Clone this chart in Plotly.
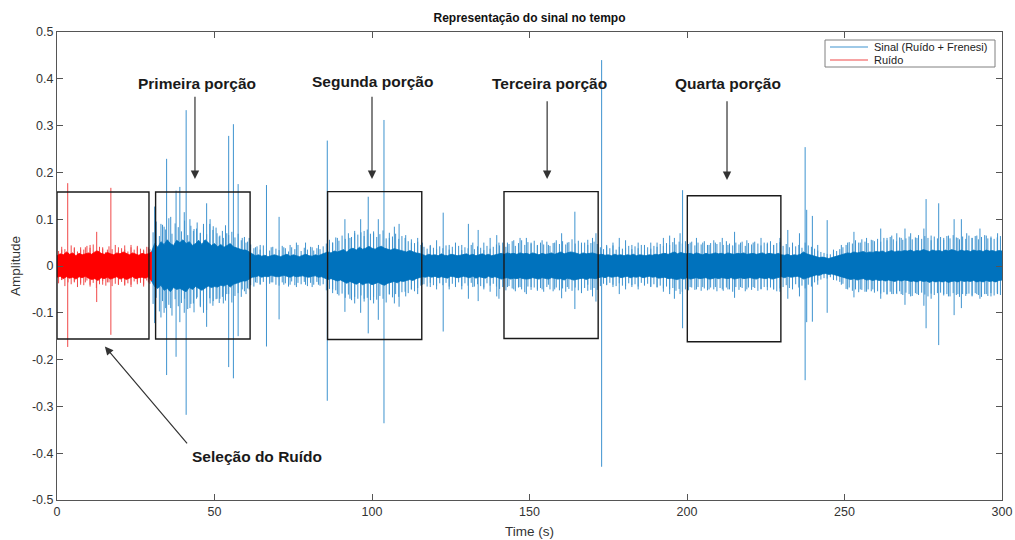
import plotly.graph_objects as go

# ---- data -------------------------------------------------------------
# Dense core of the recording, one envelope value per second (t = 0 ... 300 s).
# Upper edge (positive amplitude) and depth of the lower edge (magnitude).
env_hi = [
    0.022, 0.026, 0.024, 0.030, 0.025, 0.028, 0.022, 0.027, 0.024, 0.026,   # 0-9
    0.028, 0.025, 0.030, 0.032, 0.027, 0.025, 0.029, 0.026, 0.024, 0.028,   # 10-19
    0.026, 0.030, 0.027, 0.024, 0.028, 0.025, 0.023, 0.027, 0.025, 0.026,   # 20-29
    0.030, 0.048, 0.040, 0.052, 0.046, 0.056, 0.048, 0.044, 0.055, 0.050,   # 30-39
    0.056, 0.048, 0.052, 0.044, 0.048, 0.055, 0.046, 0.056, 0.050, 0.044,   # 40-49
    0.048, 0.041, 0.046, 0.040, 0.044, 0.048, 0.041, 0.039, 0.037, 0.034,   # 50-59
    0.034, 0.030, 0.025, 0.022, 0.024, 0.021, 0.023, 0.020, 0.022, 0.024,   # 60-69
    0.022, 0.020, 0.023, 0.025, 0.021, 0.024, 0.022, 0.020, 0.023, 0.025,   # 70-79
    0.022, 0.021, 0.024, 0.022, 0.025, 0.027, 0.030, 0.028, 0.032, 0.030,   # 80-89
    0.033, 0.035, 0.030, 0.036, 0.038, 0.034, 0.040, 0.036, 0.038, 0.042,   # 90-99
    0.038, 0.036, 0.040, 0.042, 0.038, 0.036, 0.034, 0.037, 0.035, 0.033,   # 100-109
    0.032, 0.030, 0.033, 0.030, 0.028, 0.027, 0.024, 0.022, 0.025, 0.023,   # 110-119
    0.024, 0.022, 0.026, 0.023, 0.022, 0.025, 0.024, 0.022, 0.023, 0.025,   # 120-129
    0.026, 0.023, 0.025, 0.022, 0.024, 0.026, 0.023, 0.025, 0.022, 0.024,   # 130-139
    0.026, 0.027, 0.025, 0.028, 0.026, 0.027, 0.025, 0.028, 0.026, 0.027,   # 140-149
    0.025, 0.028, 0.026, 0.024, 0.027, 0.025, 0.026, 0.028, 0.025, 0.027,   # 150-159
    0.030, 0.026, 0.028, 0.030, 0.029, 0.027, 0.025, 0.028, 0.026, 0.027,   # 160-169
    0.028, 0.026, 0.024, 0.025, 0.023, 0.024, 0.022, 0.025, 0.023, 0.024,   # 170-179
    0.022, 0.024, 0.023, 0.025, 0.022, 0.024, 0.023, 0.022, 0.024, 0.023,   # 180-189
    0.025, 0.024, 0.026, 0.027, 0.025, 0.028, 0.030, 0.026, 0.029, 0.027,   # 190-199
    0.026, 0.027, 0.025, 0.028, 0.026, 0.024, 0.027, 0.025, 0.026, 0.028,   # 200-209
    0.026, 0.027, 0.025, 0.028, 0.026, 0.025, 0.027, 0.026, 0.028, 0.025,   # 210-219
    0.026, 0.027, 0.025, 0.026, 0.028, 0.025, 0.027, 0.026, 0.025, 0.027,   # 220-229
    0.024, 0.023, 0.025, 0.022, 0.024, 0.023, 0.025, 0.030, 0.026, 0.024,   # 230-239
    0.022, 0.020, 0.018, 0.019, 0.017, 0.016, 0.018, 0.020, 0.022, 0.024,   # 240-249
    0.026, 0.028, 0.027, 0.030, 0.028, 0.029, 0.031, 0.028, 0.030, 0.029,   # 250-259
    0.031, 0.030, 0.032, 0.029, 0.031, 0.033, 0.030, 0.032, 0.031, 0.033,   # 260-269
    0.032, 0.034, 0.031, 0.033, 0.032, 0.035, 0.033, 0.031, 0.034, 0.032,   # 270-279
    0.033, 0.031, 0.034, 0.032, 0.035, 0.033, 0.031, 0.034, 0.032, 0.033,   # 280-289
    0.031, 0.034, 0.032, 0.033, 0.031, 0.034, 0.032, 0.033, 0.031, 0.033,   # 290-299
    0.032,                                                                   # 300
]
env_depth = [
    0.024, 0.022, 0.027, 0.023, 0.026, 0.024, 0.028, 0.023, 0.025, 0.022,
    0.026, 0.029, 0.027, 0.031, 0.025, 0.027, 0.024, 0.028, 0.026, 0.023,
    0.028, 0.025, 0.029, 0.026, 0.023, 0.027, 0.025, 0.024, 0.026, 0.023,
    0.032, 0.044, 0.048, 0.041, 0.052, 0.048, 0.055, 0.046, 0.050, 0.048,
    0.052, 0.055, 0.046, 0.050, 0.044, 0.048, 0.052, 0.048, 0.043, 0.046,
    0.044, 0.045, 0.041, 0.043, 0.039, 0.045, 0.039, 0.037, 0.035, 0.032,
    0.032, 0.028, 0.024, 0.023, 0.021, 0.024, 0.022, 0.023, 0.020, 0.022,
    0.023, 0.022, 0.020, 0.022, 0.024, 0.021, 0.023, 0.022, 0.021, 0.023,
    0.024, 0.022, 0.021, 0.024, 0.023, 0.026, 0.029, 0.027, 0.030, 0.032,
    0.030, 0.034, 0.037, 0.033, 0.036, 0.039, 0.035, 0.040, 0.037, 0.036,
    0.040, 0.037, 0.035, 0.039, 0.041, 0.037, 0.035, 0.033, 0.036, 0.032,
    0.033, 0.031, 0.029, 0.031, 0.027, 0.025, 0.023, 0.024, 0.022, 0.024,
    0.022, 0.025, 0.023, 0.024, 0.026, 0.022, 0.023, 0.025, 0.024, 0.022,
    0.024, 0.025, 0.022, 0.026, 0.023, 0.024, 0.026, 0.022, 0.025, 0.023,
    0.025, 0.028, 0.026, 0.025, 0.028, 0.026, 0.027, 0.025, 0.027, 0.028,
    0.027, 0.025, 0.027, 0.028, 0.025, 0.027, 0.028, 0.025, 0.026, 0.028,
    0.027, 0.030, 0.026, 0.028, 0.030, 0.028, 0.027, 0.026, 0.029, 0.026,
    0.026, 0.027, 0.025, 0.023, 0.025, 0.022, 0.024, 0.023, 0.022, 0.025,
    0.024, 0.022, 0.025, 0.023, 0.024, 0.022, 0.025, 0.024, 0.022, 0.024,
    0.023, 0.026, 0.025, 0.024, 0.027, 0.026, 0.028, 0.029, 0.026, 0.028,
    0.025, 0.028, 0.026, 0.025, 0.027, 0.026, 0.025, 0.028, 0.027, 0.025,
    0.027, 0.025, 0.026, 0.027, 0.025, 0.028, 0.026, 0.025, 0.027, 0.026,
    0.025, 0.026, 0.028, 0.025, 0.026, 0.027, 0.025, 0.028, 0.026, 0.025,
    0.023, 0.025, 0.022, 0.024, 0.023, 0.022, 0.024, 0.028, 0.025, 0.023,
    0.021, 0.019, 0.020, 0.017, 0.016, 0.018, 0.017, 0.019, 0.021, 0.023,
    0.025, 0.027, 0.029, 0.027, 0.030, 0.028, 0.027, 0.030, 0.029, 0.031,
    0.029, 0.031, 0.030, 0.032, 0.030, 0.031, 0.033, 0.030, 0.032, 0.030,
    0.031, 0.033, 0.032, 0.034, 0.031, 0.033, 0.032, 0.035, 0.032, 0.034,
    0.032, 0.034, 0.032, 0.035, 0.033, 0.032, 0.034, 0.031, 0.033, 0.032,
    0.033, 0.031, 0.034, 0.032, 0.034, 0.031, 0.033, 0.032, 0.034, 0.031,
    0.030,
]

# Fine oscillation peaks around the core, one pair per second (centred at t + 0.5 s)
fuzz_hi = [
    .032, .041, .036, .029, .044, .038, .031, .040, .035, .043,
    .039, .046, .034, .041, .037, .030, .042, .036, .045, .033,
    .038, .044, .031, .040, .035, .043, .037, .032, .041, .036,
    .072, .095, .064, .088, .078, .102, .069, .091, .083, .074,
    .097, .066, .086, .079, .093, .071, .084, .068, .090, .077,
    .082, .063, .075, .087, .066, .073, .061, .069, .055, .062,
    .052, .046, .038, .042, .035, .044, .036, .033, .041, .037,
    .034, .043, .038, .031, .040, .036, .045, .032, .039, .035,
    .041, .033, .038, .036, .042, .048, .056, .050, .061, .054,
    .065, .058, .070, .062, .075, .067, .072, .064, .078, .069,
    .074, .062, .068, .076, .059, .071, .063, .069, .058, .064,
    .060, .053, .057, .049, .052, .045, .041, .037, .043, .039,
    .036, .042, .038, .044, .035, .041, .037, .043, .034, .040,
    .038, .045, .036, .042, .039, .034, .043, .037, .041, .046,
    .044, .050, .041, .047, .053, .043, .049, .055, .045, .051,
    .048, .054, .044, .050, .046, .052, .043, .049, .055, .047,
    .053, .046, .051, .057, .048, .054, .045, .050, .056, .049,
    .052, .047, .040, .036, .042, .038, .044, .035, .041, .037,
    .039, .043, .036, .042, .038, .045, .034, .040, .037, .043,
    .041, .047, .043, .049, .045, .051, .046, .052, .048, .053,
    .047, .052, .044, .050, .046, .053, .045, .049, .055, .047,
    .051, .045, .053, .048, .044, .050, .046, .052, .043, .049,
    .046, .052, .048, .044, .050, .047, .053, .045, .049, .051,
    .043, .047, .040, .046, .042, .045, .039, .050, .044, .041,
    .037, .033, .030, .028, .026, .025, .029, .032, .036, .040,
    .045, .051, .048, .055, .050, .057, .052, .049, .056, .053,
    .058, .052, .060, .055, .062, .057, .053, .061, .056, .059,
    .063, .057, .061, .066, .058, .064, .060, .055, .063, .059,
    .062, .056, .064, .059, .066, .061, .057, .063, .058, .065,
    .060, .064, .057, .062, .066, .059, .063, .058, .061, .064,
]
fuzz_depth = [
    .037, .030, .043, .035, .039, .033, .045, .036, .041, .031,
    .044, .036, .047, .039, .032, .042, .035, .043, .038, .040,
    .034, .042, .037, .045, .033, .039, .036, .044, .031, .038,
    .081, .068, .097, .075, .090, .083, .106, .071, .086, .079,
    .070, .092, .081, .099, .067, .088, .076, .094, .069, .085,
    .071, .079, .066, .074, .060, .078, .064, .058, .066, .054,
    .048, .041, .044, .036, .039, .034, .042, .038, .035, .040,
    .042, .035, .037, .044, .033, .041, .036, .039, .034, .043,
    .036, .040, .034, .042, .039, .052, .049, .058, .052, .063,
    .059, .068, .061, .073, .066, .070, .063, .076, .068, .073,
    .066, .072, .064, .070, .078, .061, .067, .060, .066, .056,
    .055, .058, .050, .054, .047, .042, .039, .044, .036, .041,
    .043, .037, .041, .036, .044, .038, .042, .035, .043, .037,
    .042, .036, .044, .039, .043, .046, .037, .042, .038, .044,
    .049, .045, .052, .043, .048, .054, .046, .050, .056, .044,
    .051, .046, .053, .047, .055, .045, .050, .054, .046, .052,
    .048, .055, .049, .053, .046, .052, .058, .047, .053, .051,
    .047, .051, .043, .038, .041, .036, .040, .043, .037, .042,
    .043, .037, .041, .039, .044, .036, .042, .038, .044, .039,
    .046, .042, .048, .044, .050, .047, .053, .049, .055, .050,
    .052, .046, .051, .045, .053, .048, .052, .046, .050, .054,
    .047, .053, .046, .050, .055, .045, .051, .047, .054, .046,
    .051, .047, .053, .049, .045, .052, .046, .050, .054, .048,
    .045, .041, .047, .043, .039, .046, .042, .048, .040, .044,
    .035, .031, .029, .026, .027, .024, .028, .031, .034, .038,
    .049, .046, .053, .050, .056, .051, .055, .050, .054, .057,
    .054, .059, .056, .061, .055, .060, .058, .054, .062, .057,
    .060, .064, .058, .062, .057, .061, .065, .059, .062, .058,
    .057, .063, .060, .065, .058, .062, .066, .060, .064, .059,
    .063, .058, .062, .066, .060, .064, .058, .063, .059, .062,
]
noise_end = 30  # seconds of noise-only recording at the start

# Isolated bursts of the signal: time (s), positive peak, negative peak
spk_t = [31.0, 33.0, 34.0, 34.8, 36.1, 37.8, 39.0, 40.4, 41.0, 42.2, 43.3, 44.3, 45.5,
         46.5, 47.5, 48.6, 49.6, 50.8, 51.7, 52.8, 53.9, 54.5, 56.0, 57.5, 58.8, 60.0,
         61.0, 63.0, 64.5, 66.5, 68.0, 70.5, 72.0, 74.0, 76.0, 78.9, 81.0, 83.0, 85.8,
         87.5, 89.0, 91.4, 93.0, 94.5, 96.4, 97.5, 98.8, 100.5, 102.0, 103.8, 105.5,
         107.1, 108.6, 110.7, 112.5, 114.5, 116.0, 118.5, 120.5, 122.6, 124.5, 126.5,
         128.5, 130.6, 132.0, 133.7, 135.5, 137.5, 139.6, 140.3, 143.0, 145.0, 147.0,
         149.0, 150.5, 152.5, 154.0, 156.0, 158.0, 160.2, 162.0, 164.4, 166.5, 168.5,
         170.0, 171.1, 172.9, 174.5, 176.5, 178.5, 180.5, 182.5, 184.5, 186.5, 188.5,
         190.5, 192.5, 194.5, 196.0, 197.8, 198.6, 201.0, 203.0, 205.0, 207.0, 209.0,
         211.2, 213.0, 215.1, 217.0, 219.0, 221.0, 223.5, 225.5, 227.5, 229.5, 232.0,
         233.5, 235.7, 237.5, 238.0, 239.8, 241.5, 244.5, 246.5, 249.0, 251.0, 253.0,
         255.0, 257.0, 259.0, 261.5, 263.5, 265.0, 266.6, 268.0, 269.2, 271.0, 273.0,
         275.2, 275.9, 277.5, 279.9, 281.5, 283.0, 284.8, 286.0, 287.1, 288.8, 290.5,
         292.0, 293.0, 295.0, 296.5, 298.6]
spk_hi = [0.127, 0.09, 0.084, 0.229, 0.105, 0.161, 0.169, 0.115, 0.333, 0.10, 0.075, 0.08,
          0.07, 0.09, 0.134, 0.10, 0.085, 0.07, 0.065, 0.06, 0.07, 0.278, 0.303, 0.175,
          0.06, 0.05, 0.06, 0.04, 0.045, 0.173, 0.04, 0.105, 0.04, 0.045, 0.05, 0.05,
          0.04, 0.045, 0.268, 0.05, 0.06, 0.10, 0.06, 0.07, 0.10, 0.075, 0.148, 0.07,
          0.10, 0.312, 0.06, 0.084, 0.09, 0.066, 0.05, 0.06, 0.05, 0.045, 0.055, 0.114,
          0.045, 0.05, 0.045, 0.09, 0.05, 0.077, 0.05, 0.06, 0.066, 0.05, 0.05, 0.055,
          0.06, 0.06, 0.05, 0.045, 0.055, 0.045, 0.05, 0.07, 0.05, 0.116, 0.05, 0.045,
          0.06, 0.07, 0.44, 0.045, 0.05, 0.06, 0.055, 0.045, 0.05, 0.045, 0.05, 0.05,
          0.06, 0.065, 0.06, 0.07, 0.162, 0.05, 0.06, 0.05, 0.045, 0.05, 0.06, 0.045,
          0.073, 0.05, 0.055, 0.05, 0.06, 0.05, 0.045, 0.06, 0.077, 0.05, 0.07, 0.254,
          0.12, 0.107, 0.045, 0.098, 0.035, 0.045, 0.05, 0.073, 0.05, 0.06, 0.055, 0.08,
          0.06, 0.065, 0.07, 0.06, 0.08, 0.07, 0.06, 0.08, 0.143, 0.065, 0.134, 0.06,
          0.065, 0.10, 0.06, 0.10, 0.07, 0.06, 0.065, 0.08, 0.065, 0.06, 0.07]
spk_lo = [-0.122, -0.11, -0.10, -0.233, -0.09, -0.194, -0.12, -0.10, -0.318, -0.09, -0.08,
          -0.07, -0.085, -0.10, -0.13, -0.08, -0.075, -0.07, -0.07, -0.08, -0.06, -0.216,
          -0.24, -0.15, -0.05, -0.06, -0.05, -0.035, -0.04, -0.172, -0.035, -0.114, -0.04,
          -0.04, -0.045, -0.04, -0.045, -0.04, -0.288, -0.05, -0.06, -0.098, -0.07, -0.08,
          -0.10, -0.07, -0.144, -0.08, -0.115, -0.336, -0.06, -0.08, -0.087, -0.065, -0.05,
          -0.06, -0.04, -0.045, -0.05, -0.14, -0.05, -0.045, -0.05, -0.07, -0.045, -0.075,
          -0.05, -0.055, -0.065, -0.07, -0.045, -0.05, -0.045, -0.06, -0.045, -0.05, -0.05,
          -0.04, -0.05, -0.069, -0.045, -0.092, -0.05, -0.04, -0.065, -0.076, -0.429,
          -0.04, -0.045, -0.06, -0.05, -0.045, -0.05, -0.04, -0.045, -0.045, -0.055, -0.06,
          -0.07, -0.06, -0.133, -0.045, -0.05, -0.045, -0.05, -0.045, -0.05, -0.05, -0.068,
          -0.045, -0.05, -0.045, -0.05, -0.045, -0.05, -0.055, -0.07, -0.05, -0.065, -0.244,
          -0.12, -0.119, -0.04, -0.10, -0.03, -0.04, -0.05, -0.067, -0.05, -0.055, -0.05,
          -0.07, -0.06, -0.06, -0.06, -0.06, -0.083, -0.065, -0.06, -0.085, -0.133, -0.07,
          -0.169, -0.06, -0.065, -0.105, -0.06, -0.09, -0.06, -0.065, -0.06, -0.07, -0.06,
          -0.065, -0.06]

# Bursts inside the noise-only segment
nspk_t = [1.5, 3.4, 5.5, 7.5, 9.0, 10.5, 12.6, 14.5, 16.0, 17.1, 19.5, 21.5, 23.5, 25.5, 27.5, 29.0]
nspk_hi = [0.035, 0.177, 0.04, 0.035, 0.04, 0.045, 0.073, 0.04, 0.035, 0.167, 0.04, 0.035, 0.045, 0.04, 0.035, 0.04]
nspk_lo = [-0.03, -0.173, -0.035, -0.04, -0.035, -0.04, -0.077, -0.04, -0.035, -0.147, -0.04, -0.04, -0.04, -0.035, -0.04, -0.035]

# Highlighted windows: [t_start, t_end, amp_bottom, amp_top]
windows = [
    [0.0, 29.2, -0.156, 0.158],
    [31.3, 61.3, -0.156, 0.158],
    [85.9, 115.8, -0.157, 0.159],
    [141.9, 171.8, -0.155, 0.159],
    [200.1, 229.8, -0.162, 0.150],
]

# Callouts: text, label position, arrow tail, arrow head (data units)
callouts = [
    ["Primeira porção", (44.4, 0.389), (43.8, 0.365), (43.8, 0.186)],
    ["Segunda porção", (100.3, 0.395), (100.0, 0.365), (100.0, 0.186)],
    ["Terceira porção", (156.2, 0.389), (155.6, 0.355), (155.6, 0.186)],
    ["Quarta porção", (213.0, 0.389), (212.7, 0.355), (212.7, 0.184)],
    ["Seleção do Ruído", (63.5, -0.406), (41.7, -0.382), (15.2, -0.172)],
]

series_names = ["Sinal (Ruído + Frenesi)", "Ruído"]

x_ticks = [0, 50, 100, 150, 200, 250, 300]
y_ticks = [-0.5, -0.4, -0.3, -0.2, -0.1, 0, 0.1, 0.2, 0.3, 0.4, 0.5]
y_ticktext = ["-0.5", "-0.4", "-0.3", "-0.2", "-0.1", "0", "0.1", "0.2", "0.3", "0.4", "0.5"]

# ---- styling ----------------------------------------------------------
BLUE = "#0072BD"
BLUE_THIN = "#3E93CF"
RED = "#FF0000"
RED_THIN = "#F04848"
FONT = "Liberation Sans, Arial, sans-serif"


def band(t, hi, depth):
    xs = list(t) + list(t)[::-1]
    ys = list(hi) + [-d for d in depth][::-1]
    return xs, ys


def bursts(t, hi, lo):
    xs, ys = [], []
    for ti, h, l in zip(t, hi, lo):
        xs += [ti, ti, None]
        ys += [l, h, None]
    return xs, ys


env_t = list(range(len(env_hi)))
fuzz_t = [t + 0.5 for t in range(len(fuzz_hi))]
fuzz_lo = [-d for d in fuzz_depth]

fig = go.Figure()

# signal: fine oscillation and bursts underneath, dense core on top
fx, fy = bursts(fuzz_t[noise_end:], fuzz_hi[noise_end:], fuzz_lo[noise_end:])
fig.add_trace(go.Scatter(x=fx, y=fy, mode="lines", line=dict(color=BLUE_THIN, width=1),
                         showlegend=False, hoverinfo="skip", name=series_names[0]))
sx, sy = bursts(spk_t, spk_hi, spk_lo)
fig.add_trace(go.Scatter(x=sx, y=sy, mode="lines", line=dict(color=BLUE_THIN, width=1),
                         showlegend=False, name=series_names[0]))
bx, by = band(env_t[noise_end:], env_hi[noise_end:], env_depth[noise_end:])
fig.add_trace(go.Scatter(x=bx, y=by, fill="toself", fillcolor=BLUE, mode="lines",
                         line=dict(color=BLUE, width=0.8), showlegend=False,
                         hoverinfo="skip", name=series_names[0]))

# noise-only segment
gx, gy = bursts(fuzz_t[:noise_end], fuzz_hi[:noise_end], fuzz_lo[:noise_end])
fig.add_trace(go.Scatter(x=gx, y=gy, mode="lines", line=dict(color=RED_THIN, width=1),
                         showlegend=False, hoverinfo="skip", name=series_names[1]))
rx, ry = bursts(nspk_t, nspk_hi, nspk_lo)
fig.add_trace(go.Scatter(x=rx, y=ry, mode="lines", line=dict(color=RED_THIN, width=1),
                         showlegend=False, name=series_names[1]))
nx, ny = band(env_t[:noise_end + 1], env_hi[:noise_end + 1], env_depth[:noise_end + 1])
fig.add_trace(go.Scatter(x=nx, y=ny, fill="toself", fillcolor=RED, mode="lines",
                         line=dict(color=RED, width=0.8), showlegend=False,
                         hoverinfo="skip", name=series_names[1]))

# highlighted windows
for x0, x1, y0, y1 in windows:
    fig.add_shape(type="rect", x0=x0, x1=x1, y0=y0, y1=y1, xref="x", yref="y",
                  line=dict(color="#1a1a1a", width=1.4), fillcolor="rgba(0,0,0,0)")

# callout labels and arrows
label_font = dict(family=FONT, size=15.5, color="#1a1a1a")
for text, (lx, ly), (tx, ty), (hx, hy) in callouts:
    fig.add_annotation(x=lx, y=ly, text="<b>%s</b>" % text, showarrow=False,
                       font=label_font, xref="x", yref="y")
    fig.add_annotation(x=hx, y=hy, ax=tx, ay=ty, xref="x", yref="y", axref="x", ayref="y",
                       text="", showarrow=True, arrowhead=2, arrowsize=1.4,
                       arrowwidth=1.2, arrowcolor="#333333")

# legend box (paper coordinates of the plotting area)
fig.add_shape(type="rect", xref="paper", yref="paper", x0=0.8127, x1=0.9926,
              y0=0.9252, y1=0.9829, line=dict(color="#808080", width=1),
              fillcolor="white", layer="above")
for (name, colour, yl) in [(series_names[0], BLUE_THIN, 0.9679), (series_names[1], RED_THIN, 0.9402)]:
    fig.add_shape(type="line", xref="paper", yref="paper", x0=0.8180, x1=0.8582,
                  y0=yl, y1=yl, line=dict(color=colour, width=1.2), layer="above")
    fig.add_annotation(x=0.8624, y=yl, xref="paper", yref="paper", text=name,
                       showarrow=False, xanchor="left", yanchor="middle",
                       font=dict(family=FONT, size=11, color="#222222"))

axis_common = dict(showline=True, linecolor="#555555", linewidth=1, mirror="ticks",
                   ticks="inside", ticklen=6, tickcolor="#555555", showgrid=False,
                   zeroline=False, automargin=False, ticklabeloverflow="allow",
                   tickfont=dict(family=FONT, size=12.5, color="#333333"))

fig.update_layout(
    width=1015, height=540,
    margin=dict(l=57, r=13, t=32, b=40),
    paper_bgcolor="white", plot_bgcolor="white",
    font=dict(family=FONT, color="#222222"),
    title=dict(text="<b>Representação do sinal no tempo</b>", x=0.5, xref="paper",
               y=1 - 18 / 540, yanchor="middle", automargin=False,
               font=dict(size=12, color="#111111")),
    xaxis=dict(range=[0, 300], tickvals=x_ticks,
               title=dict(text="Time (s)", standoff=8,
                          font=dict(size=13.5, color="#333333")),
               **axis_common),
    yaxis=dict(range=[-0.5, 0.5], tickvals=y_ticks, ticktext=y_ticktext,
               title=dict(text="Amplitude", standoff=8,
                          font=dict(size=13.5, color="#333333")),
               **axis_common),
    showlegend=False,
)

fig.write_html("out.html")
